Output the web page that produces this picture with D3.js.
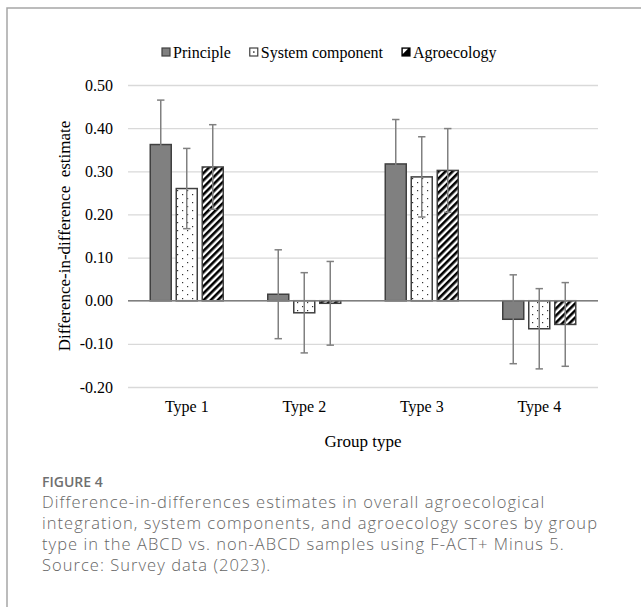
<!DOCTYPE html>
<html>
<head>
<meta charset="utf-8">
<script src="https://cdn.jsdelivr.net/npm/d3@7"></script>
<style>
  html, body { margin: 0; padding: 0; background: #fff; }
  svg { display: block; }
</style>
</head>
<body>
<svg id="chart" width="641" height="610"></svg>
<script>
// ---- data ----
const categories = ["Type 1", "Type 2", "Type 3", "Type 4"];
const seriesNames = ["Principle", "System component", "Agroecology"];
const principle = [0.362, 0.015, 0.317, -0.043];
const systemComponent = [0.260, -0.028, 0.287, -0.065];
const agroecology = [0.310, -0.006, 0.302, -0.055];
const principleErr = [0.103, 0.103, 0.103, 0.103];
const systemErr = [0.093, 0.093, 0.093, 0.093];
const agroErr = [0.098, 0.097, 0.097, 0.097];
const yTicks = [-0.2, -0.1, 0, 0.1, 0.2, 0.3, 0.4, 0.5];
const yTickLabels = ["-0.20", "-0.10", "0.00", "0.10", "0.20", "0.30", "0.40", "0.50"];
const yTitle = "Difference-in-difference\u00a0\u00a0estimate";
const xTitle = "Group type";
const figLabel = "FIGURE 4";
const captionLines = [
  "Difference-in-differences estimates in overall agroecological",
  "integration, system components, and agroecology scores by group",
  "type in the ABCD vs. non-ABCD samples using F-ACT+ Minus 5.",
  "Source: Survey data (2023)."
];

const values = [principle, systemComponent, agroecology];
const errors = [principleErr, systemErr, agroErr];
const rows = [];
categories.forEach((c, i) => {
  seriesNames.forEach((s, j) => {
    rows.push({ cat: c, series: s, idx: j, value: values[j][i], err: errors[j][i] });
  });
});

// ---- layout ----
const svg = d3.select("#chart");
const serif = "'Liberation Serif', 'Times New Roman', serif";
const plot = { left: 128, right: 598, top: 85, bottom: 387 };

// frame
svg.append("path")
  .attr("d", "M7,607 L7,8 L641,8")
  .attr("fill", "none").attr("stroke", "#a6a6a6").attr("stroke-width", 1.5);

// patterns
const defs = svg.append("defs");
const dots = defs.append("pattern").attr("id", "dots")
  .attr("patternUnits", "userSpaceOnUse").attr("width", 10).attr("height", 8);
dots.append("rect").attr("width", 10).attr("height", 8).attr("fill", "#fff");
dots.append("rect").attr("x", 2).attr("y", 2).attr("width", 1.2).attr("height", 1.2).attr("fill", "#333");
dots.append("rect").attr("x", 7).attr("y", 6).attr("width", 1.2).attr("height", 1.2).attr("fill", "#333");

const stripes = defs.append("pattern").attr("id", "stripes")
  .attr("patternUnits", "userSpaceOnUse").attr("width", 5).attr("height", 5)
  .attr("patternTransform", "rotate(45)");
stripes.append("rect").attr("width", 5).attr("height", 5).attr("fill", "#fff");
stripes.append("rect").attr("x", 0).attr("y", 0).attr("width", 2.6).attr("height", 5).attr("fill", "#000");

const fills = ["#808080", "url(#dots)", "url(#stripes)"];

// scales
const x0 = d3.scaleBand().domain(categories).range([plot.left, plot.right]).padding(0);
const p = 5 / 26;
const x1 = d3.scaleBand().domain(seriesNames).range([-39, 39]).paddingInner(p).paddingOuter(p / 2);
const y = d3.scaleLinear().domain([-0.2, 0.5]).range([plot.bottom, plot.top]);

// gridlines
const grid = svg.append("g").attr("transform", `translate(${plot.left},0)`)
  .call(d3.axisLeft(y).tickValues(yTicks).tickSize(-(plot.right - plot.left)).tickFormat(""));
grid.select(".domain").remove();
grid.selectAll("line").attr("stroke", "#d9d9d9").attr("stroke-width", 1.3);

// y labels
const yAxis = svg.append("g").attr("transform", `translate(${plot.left - 15},0)`)
  .call(d3.axisLeft(y).tickValues(yTicks).tickSize(0).tickPadding(0)
    .tickFormat((d, i) => yTickLabels[i]));
yAxis.select(".domain").remove();
yAxis.selectAll("text").attr("font-family", serif).attr("font-size", 16).attr("fill", "#000");

// bars
const bars = svg.append("g");
bars.selectAll("rect").data(rows).join("rect")
  .attr("x", d => x0(d.cat) + x0.bandwidth() / 2 + x1(d.series))
  .attr("width", x1.bandwidth())
  .attr("y", d => y(Math.max(0, d.value)))
  .attr("height", d => Math.abs(y(d.value) - y(0)))
  .attr("fill", d => fills[d.idx])
  .attr("stroke", "#404040").attr("stroke-width", 1.5);

// zero line
svg.append("line")
  .attr("x1", plot.left).attr("x2", plot.right)
  .attr("y1", y(0)).attr("y2", y(0))
  .attr("stroke", "#7f7f7f").attr("stroke-width", 1.5);

// error bars
const eb = svg.append("g").attr("stroke", "#808080").attr("stroke-width", 1.5);
const cx = d => x0(d.cat) + x0.bandwidth() / 2 + x1(d.series) + x1.bandwidth() / 2;
eb.selectAll("line.v").data(rows).join("line").attr("class", "v")
  .attr("x1", cx).attr("x2", cx)
  .attr("y1", d => y(d.value + d.err)).attr("y2", d => y(d.value - d.err));
eb.selectAll("line.t").data(rows).join("line").attr("class", "t")
  .attr("x1", d => cx(d) - 3.7).attr("x2", d => cx(d) + 3.7)
  .attr("y1", d => y(d.value + d.err)).attr("y2", d => y(d.value + d.err));
eb.selectAll("line.b").data(rows).join("line").attr("class", "b")
  .attr("x1", d => cx(d) - 3.7).attr("x2", d => cx(d) + 3.7)
  .attr("y1", d => y(d.value - d.err)).attr("y2", d => y(d.value - d.err));

// x axis labels
const xAxis = svg.append("g").attr("transform", `translate(0,${plot.bottom})`)
  .call(d3.axisBottom(x0).tickSize(0).tickPadding(14));
xAxis.select(".domain").remove();
xAxis.selectAll("text").attr("font-family", serif).attr("font-size", 16).attr("fill", "#000");

// axis titles
svg.append("text")
  .attr("transform", `translate(70,${(plot.top + plot.bottom) / 2}) rotate(-90)`)
  .attr("text-anchor", "middle").attr("font-family", serif).attr("font-size", 17)
  .text(yTitle);
svg.append("text")
  .attr("x", (plot.left + plot.right) / 2).attr("y", 447)
  .attr("text-anchor", "middle").attr("font-family", serif).attr("font-size", 17)
  .text(xTitle);

// legend
const legend = svg.append("g");
let lx = 162;
seriesNames.forEach((s, j) => {
  const g = legend.append("g");
  if (j === 0) {
    g.append("rect").attr("x", lx).attr("y", 48).attr("width", 8).attr("height", 8)
      .attr("fill", "#808080").attr("stroke", "#404040").attr("stroke-width", 1.2);
  } else if (j === 1) {
    g.append("rect").attr("x", lx).attr("y", 48).attr("width", 8).attr("height", 8)
      .attr("fill", "#fff").attr("stroke", "#404040").attr("stroke-width", 1.2);
    g.append("rect").attr("x", lx + 3.3).attr("y", 51.3).attr("width", 1.5).attr("height", 1.5).attr("fill", "#333");
  } else {
    g.append("rect").attr("x", lx).attr("y", 48).attr("width", 8).attr("height", 8)
      .attr("fill", "#000").attr("stroke", "#000").attr("stroke-width", 1.2);
    g.append("path").attr("d", `M${lx + 0.8},${48.8} L${lx + 6},${48.8} L${lx + 0.8},${54}Z`).attr("fill", "#fff");
  }
  const t = g.append("text").attr("x", lx + 11).attr("y", 57.5)
    .attr("font-family", serif).attr("font-size", 16).text(s);
  lx = lx + 11 + t.node().getComputedTextLength() + 19;
});

// caption
const sans = "'Open Sans', 'Noto Sans', sans-serif";
svg.append("text").attr("x", 42).attr("y", 487)
  .attr("font-family", sans).attr("font-size", 14).attr("font-weight", 600)
  .attr("fill", "#6f6f6f").text(figLabel);
const cap = svg.append("g");
const capFs = 16.5;
const capTexts = captionLines.map((line, i) =>
  cap.append("text").attr("x", 42).attr("y", 508 + i * 21)
    .attr("font-family", sans).attr("font-size", capFs).attr("font-weight", 300)
    .attr("fill", "#666").text(line));
const w = capTexts[1].node().getComputedTextLength();
const ls = Math.max(0, (556 - w) / captionLines[1].length);
capTexts.forEach(t => t.attr("letter-spacing", ls));
</script>
</body>
</html>
